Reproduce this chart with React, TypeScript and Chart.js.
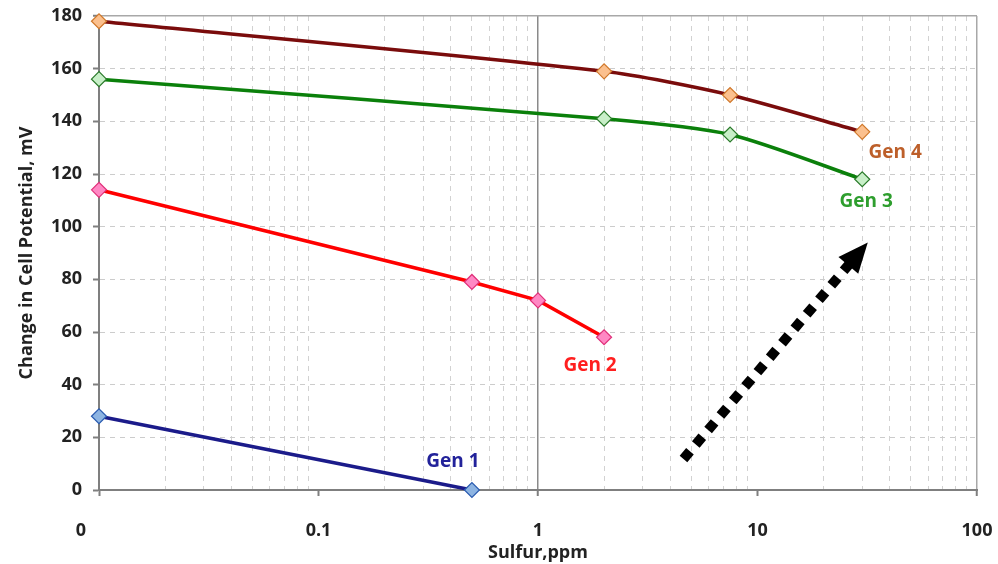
import React, { useEffect, useRef } from 'react';
import { Chart, registerables } from 'chart.js';

Chart.register(...registerables);

// ---- data ----
const seriesNames = ['Gen 1', 'Gen 2', 'Gen 3', 'Gen 4'];
const sulfurGen1 = [0.01, 0.5];
const potentialGen1 = [28, 0];
const sulfurGen2 = [0.01, 0.5, 1, 2];
const potentialGen2 = [114, 79, 72, 58];
const sulfurGen3 = [0.01, 2, 7.5, 30];
const potentialGen3 = [156, 141, 135, 118];
const sulfurGen4 = [0.01, 2, 7.5, 30];
const potentialGen4 = [178, 159, 150, 136];

const xMajorTicks = [0.01, 0.1, 1, 10, 100];
const xTickLabels = ['0\u2003\u2003', '0.1', '1', '10', '100'];
const yMin = 0;
const yMax = 180;
const yStep = 20;

const xTitle = 'Sulfur,ppm';
const yTitle = 'Change in Cell Potential, mV';

// arrow annotation (data coords)
const arrowStart = { x: 4.6, y: 11.8 };
const arrowEnd = { x: 31.8, y: 94 };

// ---- styles ----
const lineColors = ['#1b1b8a', '#ff0000', '#0b800b', '#7a0c0c'];
const markerFill = ['#8db4e2', '#ff88c4', '#c8efc8', '#fbc08e'];
const markerBorder = ['#2a5bb0', '#e0307a', '#2a7a2a', '#d0782a'];
const labelColors = ['#22229a', '#ff1f1f', '#2e9e2e', '#bd5f2a'];
const labelOffsets = [
  { dx: -19, dy: -28 },
  { dx: -14, dy: 28 },
  { dx: 4, dy: 22 },
  { dx: 33, dy: 21 },
];
const tensions = [0, 0, 0.25, 0.25];

const FONT = '"Open Sans", "DejaVu Sans", sans-serif';

function buildXGrid(): number[] {
  const out: number[] = [];
  for (let i = 0; i < xMajorTicks.length; i++) {
    const base = xMajorTicks[i];
    out.push(base);
    if (i < xMajorTicks.length - 1) {
      for (let m = 2; m <= 9; m++) out.push(+(base * m).toPrecision(6));
    }
  }
  return out;
}

const isMajor = (v: number) => xMajorTicks.some((t) => Math.abs(t - v) / t < 1e-6);

const annotationPlugin = {
  id: 'annotations',
  afterDatasetsDraw(chart: any) {
    const { ctx, scales } = chart;
    const xs = scales.x;
    const ys = scales.y;
    ctx.save();
    // series labels
    ctx.font = `bold 19px ${FONT}`;
    ctx.textAlign = 'center';
    ctx.textBaseline = 'middle';
    chart.data.datasets.forEach((ds: any, i: number) => {
      const last = ds.data[ds.data.length - 1];
      const px = xs.getPixelForValue(last.x) + labelOffsets[i].dx;
      const py = ys.getPixelForValue(last.y) + labelOffsets[i].dy;
      ctx.fillStyle = labelColors[i];
      ctx.fillText(seriesNames[i], px, py);
    });
    // dotted arrow
    const x0 = xs.getPixelForValue(arrowStart.x);
    const y0 = ys.getPixelForValue(arrowStart.y);
    const x1 = xs.getPixelForValue(arrowEnd.x);
    const y1 = ys.getPixelForValue(arrowEnd.y);
    const len = Math.hypot(x1 - x0, y1 - y0);
    const ux = (x1 - x0) / len;
    const uy = (y1 - y0) / len;
    const headLen = 30;
    const headHalf = 13;
    const bx = x1 - ux * headLen;
    const by = y1 - uy * headLen;
    ctx.strokeStyle = '#000';
    ctx.lineWidth = 10;
    ctx.lineCap = 'butt';
    ctx.setLineDash([10, 9]);
    ctx.beginPath();
    ctx.moveTo(x0, y0);
    ctx.lineTo(bx + ux * 2, by + uy * 2);
    ctx.stroke();
    ctx.setLineDash([]);
    ctx.fillStyle = '#000';
    ctx.beginPath();
    ctx.moveTo(x1, y1);
    ctx.lineTo(bx - uy * headHalf, by + ux * headHalf);
    ctx.lineTo(bx + uy * headHalf, by - ux * headHalf);
    ctx.closePath();
    ctx.fill();
    ctx.restore();
  },
};

export default function App() {
  const ref = useRef<HTMLCanvasElement | null>(null);

  useEffect(() => {
    document.body.style.margin = '0';
    document.body.style.overflow = 'hidden';
    const canvas = ref.current;
    if (!canvas) return;
    const xsArr = [sulfurGen1, sulfurGen2, sulfurGen3, sulfurGen4];
    const ysArr = [potentialGen1, potentialGen2, potentialGen3, potentialGen4];
    const datasets = seriesNames.map((name, i) => ({
      label: name,
      data: xsArr[i].map((x, j) => ({ x, y: ysArr[i][j] })),
      borderColor: lineColors[i],
      backgroundColor: markerFill[i],
      borderWidth: 3.5,
      pointStyle: 'rectRot' as const,
      pointRadius: 7.5,
      pointBackgroundColor: markerFill[i],
      pointBorderColor: markerBorder[i],
      pointBorderWidth: 1.2,
      tension: tensions[i],
      clip: false as const,
    }));
    const xGrid = buildXGrid();
    const yTicks: number[] = [];
    for (let v = yMin; v <= yMax; v += yStep) yTicks.push(v);

    const chart = new Chart(canvas, {
      type: 'line',
      data: { datasets },
      options: {
        responsive: false,
        animation: false,
        devicePixelRatio: 1,
        layout: { padding: { left: 0, top: 16, right: 21, bottom: 0 } },
        plugins: { legend: { display: false }, tooltip: { enabled: false } },
        scales: {
          x: {
            type: 'logarithmic',
            min: xMajorTicks[0],
            max: xMajorTicks[xMajorTicks.length - 1],
            afterBuildTicks: (scale: any) => {
              scale.ticks = xGrid.map((v) => ({ value: v, major: isMajor(v) }));
            },
            afterFit: (scale: any) => {
              scale.height = 74;
              scale.paddingLeft = 0;
              scale.paddingRight = 0;
            },
            ticks: {
              autoSkip: false,
              maxRotation: 0,
              minRotation: 0,
              padding: 24,
              color: '#222222',
              font: { family: FONT, size: 18, weight: 'bold' },
              callback: (value: any) => {
                const idx = xMajorTicks.findIndex((t) => Math.abs(t - value) / t < 1e-6);
                return idx >= 0 ? xTickLabels[idx] : '';
              },
            },
            grid: {
              drawOnChartArea: true,
              tickLength: 6,
              color: (c: any) => {
                const v = c.tick?.value;
                if (v === undefined) return '#d0d0d0';
                if (Math.abs(v - 1) < 1e-9) return '#8a8a8a';
                if (Math.abs(v - 100) < 1e-9) return '#a8a8a8';
                if (isMajor(v)) return 'rgba(0,0,0,0)';
                return '#d2d2d2';
              },
              lineWidth: (c: any) => {
                const v = c.tick?.value;
                if (v !== undefined && Math.abs(v - 1) < 1e-9) return 1.5;
                if (v !== undefined && Math.abs(v - 100) < 1e-9) return 1.5;
                return 1;
              },
              tickColor: (c: any) => {
                const v = c.tick?.value;
                return v !== undefined && isMajor(v) ? '#7f7f7f' : 'rgba(0,0,0,0)';
              },
              tickWidth: 2,
            },
            border: {
              display: true,
              color: '#7f7f7f',
              width: 2,
              dash: (c: any) => {
                const v = c.tick?.value;
                if (v === undefined) return [];
                if (Math.abs(v - 1) < 1e-9 || Math.abs(v - 100) < 1e-9) return [];
                return [5, 5];
              },
            },
            title: {
              display: true,
              text: xTitle,
              color: '#222222',
              font: { family: FONT, size: 18, weight: 'bold' },
              padding: { top: 0, bottom: 0 },
            },
          },
          y: {
            type: 'linear',
            min: yMin,
            max: yMax,
            afterBuildTicks: (scale: any) => {
              scale.ticks = yTicks.map((v) => ({ value: v }));
            },
            afterFit: (scale: any) => {
              scale.width = 99;
              scale.paddingTop = 0;
              scale.paddingBottom = 0;
            },
            ticks: {
              padding: 11,
              color: '#222222',
              font: { family: FONT, size: 18, weight: 'bold' },
            },
            grid: {
              tickLength: 6,
              tickWidth: 2,
              tickColor: '#7f7f7f',
              color: (c: any) => {
                const v = c.tick?.value;
                if (v === yMax) return '#a8a8a8';
                if (v === yMin) return 'rgba(0,0,0,0)';
                return '#cccccc';
              },
              lineWidth: (c: any) => (c.tick?.value === yMax ? 1.5 : 1),
            },
            border: {
              display: true,
              color: '#7f7f7f',
              width: 2,
              dash: (c: any) => {
                const v = c.tick?.value;
                if (v === undefined || v === yMax) return [];
                return [5, 5];
              },
            },
            title: {
              display: true,
              text: yTitle,
              color: '#222222',
              font: { family: FONT, size: 18, weight: 'bold' },
              padding: { top: 16, bottom: 0 },
            },
          },
        },
      },
      plugins: [annotationPlugin],
    } as any);
    return () => chart.destroy();
  }, []);

  return (
    <div style={{ width: 998, height: 564, background: '#fff' }}>
      <canvas ref={ref} width={998} height={564} style={{ display: 'block', width: 998, height: 564 }} />
    </div>
  );
}
